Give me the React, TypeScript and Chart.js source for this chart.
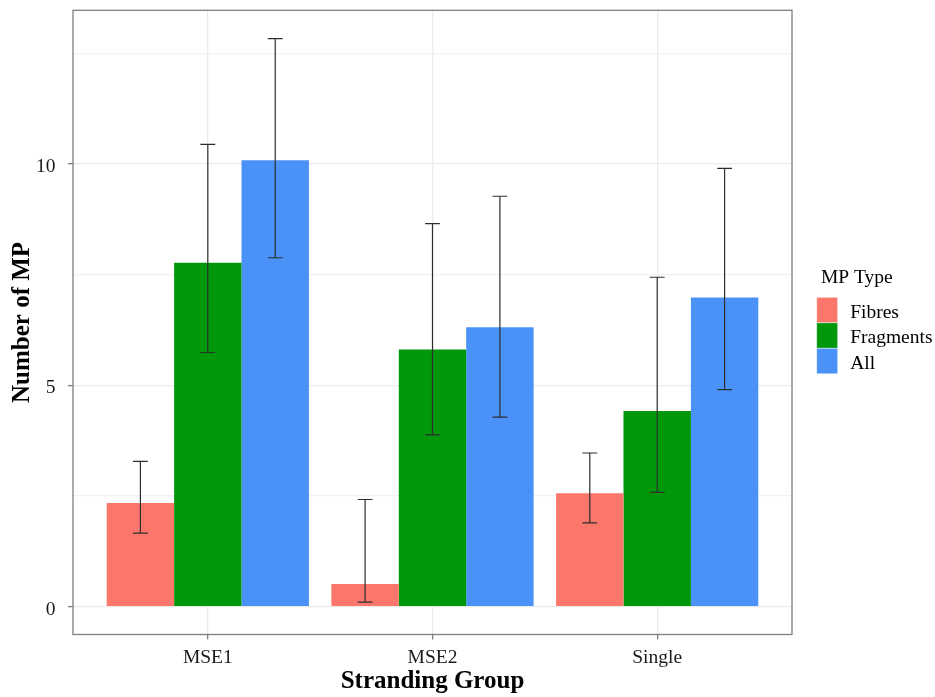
import React, { useEffect, useRef } from 'react';
import { Chart, registerables } from 'chart.js';

Chart.register(...registerables);

const categories = ['MSE1', 'MSE2', 'Single'];
const seriesNames = ['Fibres', 'Fragments', 'All'];
const seriesColors = ['#FC776B', '#00970A', '#4A92F7'];

const fibres = [2.34, 0.51, 2.56];
const fragments = [7.77, 5.81, 4.42];
const all = [10.08, 6.31, 6.98];

const fibresLow = [1.66, 0.1, 1.89];
const fibresHigh = [3.28, 2.42, 3.47];
const fragmentsLow = [5.74, 3.88, 2.58];
const fragmentsHigh = [10.44, 8.65, 7.44];
const allLow = [7.88, 4.28, 4.9];
const allHigh = [12.83, 9.27, 9.9];

const yTicks = [0, 2.5, 5, 7.5, 10, 12.5];
const yLabelTicks = [0, 5, 10];
const xTitle = 'Stranding Group';
const yTitle = 'Number of MP';
const legendTitle = 'MP Type';

const FONT = "'Liberation Serif', 'Times New Roman', serif";

const seriesValues = [fibres, fragments, all];
const seriesLow = [fibresLow, fragmentsLow, allLow];
const seriesHigh = [fibresHigh, fragmentsHigh, allHigh];

const panelBorderPlugin = {
  id: 'panelBorder',
  afterDatasetsDraw(chart: any) {
    const { ctx, chartArea } = chart;
    ctx.save();
    ctx.strokeStyle = '#7f7f7f';
    ctx.lineWidth = 1.3;
    ctx.strokeRect(chartArea.left, chartArea.top, chartArea.right - chartArea.left, chartArea.bottom - chartArea.top);
    ctx.restore();
  },
};

const errorBarPlugin = {
  id: 'errorBars',
  afterDatasetsDraw(chart: any) {
    const { ctx } = chart;
    const yScale = chart.scales.y;
    ctx.save();
    ctx.strokeStyle = '#2e2e2e';
    ctx.lineWidth = 1.2;
    chart.data.datasets.forEach((ds: any, i: number) => {
      const meta = chart.getDatasetMeta(i);
      meta.data.forEach((el: any, j: number) => {
        const lo = yScale.getPixelForValue(ds.errLow[j]);
        const hi = yScale.getPixelForValue(ds.errHigh[j]);
        const hw = el.width * 0.11;
        ctx.beginPath();
        ctx.moveTo(el.x, lo);
        ctx.lineTo(el.x, hi);
        ctx.moveTo(el.x - hw, lo);
        ctx.lineTo(el.x + hw, lo);
        ctx.moveTo(el.x - hw, hi);
        ctx.lineTo(el.x + hw, hi);
        ctx.stroke();
      });
    });
    ctx.restore();
  },
};

const legendPlugin = {
  id: 'ggLegend',
  afterDraw(chart: any) {
    const { ctx, chartArea } = chart;
    const boxLeft = chartArea.right + 24.7;
    const top = chartArea.top + 287;
    const keyW = 21;
    const keyH = 25.5;
    ctx.save();
    ctx.font = `19.5px ${FONT}`;
    ctx.textAlign = 'left';
    ctx.textBaseline = 'alphabetic';
    ctx.fillStyle = '#000';
    ctx.fillText(legendTitle, boxLeft + 4.3, top - 14.3);
    chart.data.datasets.forEach((ds: any, i: number) => {
      const y0 = top + i * keyH;
      ctx.fillStyle = ds.backgroundColor;
      ctx.fillRect(boxLeft, y0, keyW, keyH);
      ctx.strokeStyle = 'rgba(255,255,255,0.6)';
      ctx.lineWidth = 0.8;
      ctx.strokeRect(boxLeft, y0, keyW, keyH);
      ctx.fillStyle = '#000';
      ctx.fillText(ds.label, boxLeft + 33.5, y0 + keyH / 2 + 7.5);
    });
    ctx.restore();
  },
};

export default function App() {
  const canvasRef = useRef<HTMLCanvasElement | null>(null);

  useEffect(() => {
    if (!canvasRef.current) return;
    const datasets = seriesNames.map((name, s) => ({
      label: name,
      data: categories.map((_, i) => ({ x: i + 1, y: seriesValues[s][i] })),
      backgroundColor: seriesColors[s],
      borderWidth: 0,
      errLow: seriesLow[s],
      errHigh: seriesHigh[s],
      categoryPercentage: 0.9,
      barPercentage: 1,
    }));

    const chart = new Chart(canvasRef.current, {
      type: 'bar',
      data: { datasets } as any,
      options: {
        animation: false,
        responsive: false,
        devicePixelRatio: 1,
        layout: { padding: { left: 0, top: 10.3, right: 143, bottom: 0 } },
        plugins: {
          legend: { display: false },
          tooltip: { enabled: false },
        },
        scales: {
          x: {
            type: 'linear',
            min: 0.4,
            max: 3.6,
            offset: false,
            afterBuildTicks: (scale: any) => {
              scale.ticks = categories.map((_, i) => ({ value: i + 1 }));
            },
            afterFit: (scale: any) => {
              scale.height = 62.5;
              scale.paddingLeft = 0;
              scale.paddingRight = 0;
            },
            border: { display: false },
            grid: {
              offset: false,
              color: '#EBEBEB',
              lineWidth: 1.3,
              drawTicks: true,
              tickLength: 5,
              tickColor: '#7f7f7f',
              tickWidth: 1.3,
            },
            ticks: {
              autoSkip: false,
              maxRotation: 0,
              padding: 7,
              color: '#1a1a1a',
              font: { family: FONT, size: 19.5 },
              callback: (v: any) => categories[Math.round(Number(v)) - 1] ?? '',
            },
            title: {
              display: true,
              text: xTitle,
              color: '#000',
              font: { family: FONT, size: 25, weight: 'bold' },
              padding: { top: 0, bottom: 0 },
            },
          },
          y: {
            type: 'linear',
            min: -0.63,
            max: 13.47,
            afterBuildTicks: (scale: any) => {
              scale.ticks = yTicks.map((v) => ({ value: v }));
            },
            afterFit: (scale: any) => {
              scale.width = 73;
              scale.paddingTop = 0;
              scale.paddingBottom = 0;
            },
            border: { display: false },
            grid: {
              color: (c: any) => (yLabelTicks.includes(c.tick?.value) ? '#EBEBEB' : '#F1F1F1'),
              lineWidth: 1.3,
              drawTicks: true,
              tickLength: 5,
              tickColor: (c: any) => (yLabelTicks.includes(c.tick?.value) ? '#7f7f7f' : 'rgba(0,0,0,0)'),
              tickWidth: 1.3,
            },
            ticks: {
              autoSkip: false,
              padding: 12.5,
              labelOffset: 3,
              color: '#1a1a1a',
              font: { family: FONT, size: 19.5 },
              callback: (v: any) => (yLabelTicks.includes(Number(v)) ? String(v) : ''),
            },
            title: {
              display: true,
              text: yTitle,
              color: '#000',
              font: { family: FONT, size: 25, weight: 'bold' },
              padding: { top: 8, bottom: 0 },
            },
          },
        },
      } as any,
      plugins: [panelBorderPlugin, errorBarPlugin, legendPlugin],
    });

    return () => chart.destroy();
  }, []);

  return (
    <div style={{ position: 'absolute', left: 0, top: 0, width: 935, height: 697, background: '#fff' }}>
      <canvas ref={canvasRef} width={935} height={697} style={{ display: 'block', width: 935, height: 697 }} />
    </div>
  );
}
